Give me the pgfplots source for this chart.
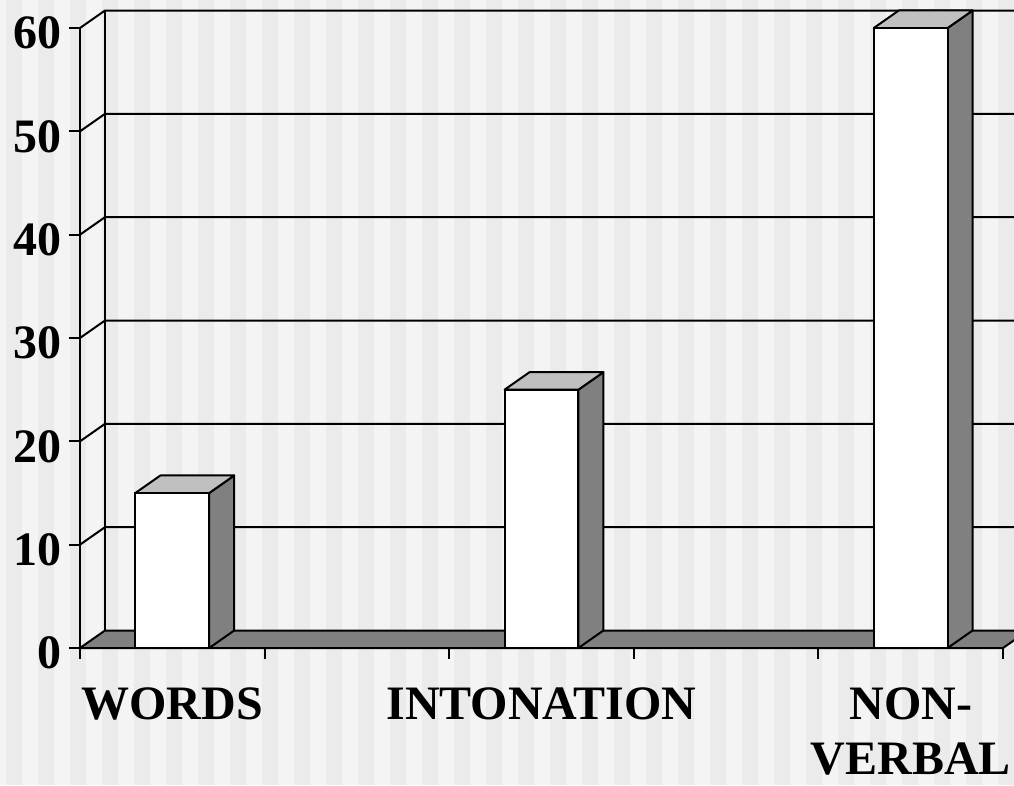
\documentclass[border=0pt]{standalone}
\usepackage{fontspec}
\setmainfont{Liberation Serif}
\usepackage{pgfplots}
\pgfplotsset{compat=1.18}

\definecolor{stripeA}{HTML}{F4F4F4}
\definecolor{stripeB}{HTML}{EBEBEB}
\definecolor{sidegray}{HTML}{808080}
\definecolor{topgray}{HTML}{C0C0C0}

% depth of the 3d effect, in axis units (25pt across, 17.5pt up)
\newcommand{\dx}{0.1354}
\newcommand{\dy}{1.694}

% side and top faces of a bar centred at #1 of height #2
\newcommand{\cube}[2]{%
  \pgfmathsetmacro{\xl}{#1-0.2}%
  \pgfmathsetmacro{\xr}{#1+0.2}%
  \pgfmathsetmacro{\xlb}{\xl+\dx}%
  \pgfmathsetmacro{\xrb}{\xr+\dx}%
  \pgfmathsetmacro{\vb}{#2+\dy}%
  \addplot[fill=sidegray, draw=black, line width=2pt, line join=round]
    coordinates {(\xr,0) (\xrb,\dy) (\xrb,\vb) (\xr,#2)} -- cycle;
  \addplot[fill=topgray, draw=black, line width=2pt, line join=round]
    coordinates {(\xl,#2) (\xr,#2) (\xrb,\vb) (\xlb,\vb)} -- cycle;
}

\begin{document}
\begin{tikzpicture}
\useasboundingbox (-80pt,-137pt) rectangle (934pt,648pt);
\clip (-80pt,-137pt) rectangle (934pt,648pt);
\fill[stripeA] (-80pt,-137pt) rectangle (934pt,648pt);
\foreach \i in {0,...,31}
  \fill[stripeB] ({(-74+32*\i)*1pt},-137pt) rectangle ({(-58+32*\i)*1pt},648pt);

\begin{axis}[
    at={(0,0)}, anchor=south west,
    scale only axis,
    width=923pt, height=620pt,
    xmin=0, xmax=5, ymin=0, ymax=60,
    clip=false,
    axis x line*=bottom,
    axis y line*=left,
    axis line style={line width=2pt, -},
    tick align=outside,
    major tick length=11pt,
    tick style={line width=2pt, black},
    xtick={0,1,2,3,4,5},
    xticklabels={,,,,,},
    extra x ticks={0.5,2.5,4.5},
    extra x tick labels={WORDS,INTONATION,{NON-\\VERBAL}},
    extra x tick style={major tick length=0pt,
      xticklabel style={align=center, anchor=north, inner sep=0pt, yshift=-40pt}},
    ytick={0,10,...,60},
    /pgf/number format/assume math mode=true,
    yticklabel style={inner sep=0pt, anchor=east, xshift=-7pt, yshift=-5pt},
    tick label style={font=\fontsize{48}{55}\selectfont\bfseries},
  ]
  % back wall grid with the diagonals from the front axis
  \pgfplotsinvokeforeach{10,20,30,40,50,60}{
    \draw[line width=2pt] (axis cs:0,#1) -- ++(25pt,17.5pt) -- ++(1000pt,0pt);
  }
  \draw[line width=2pt] (axis cs:0,0) ++(25pt,17.5pt) -- ++(0pt,620pt);

  % floor
  \addplot[fill=sidegray, draw=black, line width=2pt, line join=round]
    coordinates {(0,0) (5,0) (5.1354,1.694) (0.1354,1.694)} -- cycle;

  % bars
  \cube{0.5}{15}
  \cube{2.5}{25}
  \cube{4.5}{60}
  \addplot[ybar, bar width=0.4, fill=white, draw=black, line width=2pt]
    coordinates {(0.5,15) (2.5,25) (4.5,60)};
\end{axis}
\end{tikzpicture}
\end{document}
